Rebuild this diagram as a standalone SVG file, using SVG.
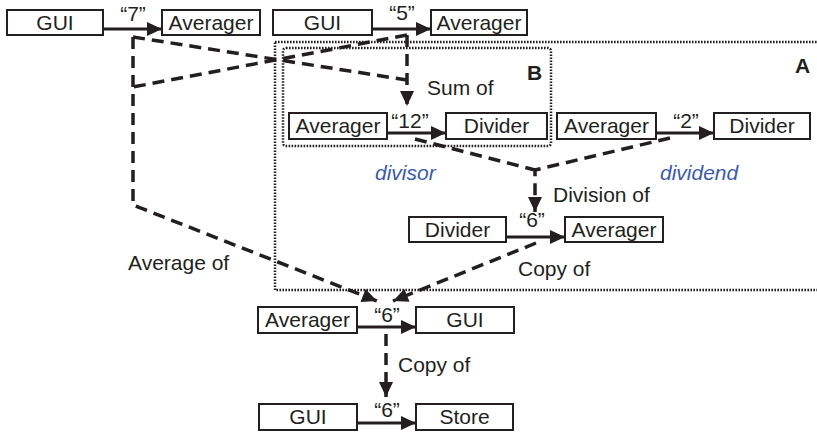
<svg xmlns="http://www.w3.org/2000/svg" width="817" height="434" viewBox="0 0 817 434">
<style>
text{font-family:"Liberation Sans",Arial,sans-serif;font-size:21px;fill:#231f20}
.box rect{fill:#fff;stroke:#231f20;stroke-width:2}
.box text{text-anchor:middle}
.q{text-anchor:middle}
.flow{stroke:#231f20;stroke-width:3;fill:none}
.dash{stroke:#231f20;stroke-width:3.5;fill:none;stroke-dasharray:12 7}
.dot{stroke:#231f20;stroke-width:2.5;fill:none;stroke-dasharray:1.6 1.4}
.lbl{font-weight:bold}
.blue{fill:#3b5ba9;font-style:italic}
</style>
<defs>
<marker id="ah" markerUnits="userSpaceOnUse" markerWidth="16" markerHeight="15" refX="15" refY="7" orient="auto" overflow="visible">
<path d="M0,0 L15,7 L0,14 z" fill="#231f20"/>
</marker>
</defs>

<g id="frames">
<rect class="dot" x="275" y="42" width="560" height="248"/>
<rect class="dot" x="283" y="48" width="268" height="98" rx="3"/>
<text class="lbl" x="795" y="73">A</text>
<text class="lbl" x="527" y="80">B</text>
</g>

<g id="connectors">
<line class="flow" x1="103" y1="29" x2="162" y2="29" marker-end="url(#ah)"/>
<line class="flow" x1="372" y1="29" x2="431" y2="29" marker-end="url(#ah)"/>
<line class="flow" x1="387" y1="133" x2="446" y2="133" marker-end="url(#ah)"/>
<line class="flow" x1="656" y1="133" x2="714" y2="133" marker-end="url(#ah)"/>
<line class="flow" x1="506" y1="237" x2="565" y2="237" marker-end="url(#ah)"/>
<line class="flow" x1="357" y1="327" x2="416" y2="327" marker-end="url(#ah)"/>
<line class="flow" x1="357" y1="423" x2="416" y2="423" marker-end="url(#ah)"/>

<path class="dash" d="M133,37 L407,80"/>
<path class="dash" d="M407,35 L407,106" marker-end="url(#ah)"/>
<path class="dash" d="M407,35 L133,87"/>
<path class="dash" d="M133,37 L133,205 L377,301" marker-end="url(#ah)"/>
<path class="dash" d="M415,139 L535,170"/>
<path class="dash" d="M670,138 L535,170 L535,212" marker-end="url(#ah)"/>
<path class="dash" d="M536,243 L393,301" marker-end="url(#ah)"/>
<path class="dash" d="M386,334 L386,397" marker-end="url(#ah)"/>

<text class="q" x="133" y="21">“7”</text>
<text class="q" x="402" y="20">“5”</text>
<text class="q" x="410" y="128">“12”</text>
<text class="q" x="686" y="128">“2”</text>
<text class="q" x="532" y="227">“6”</text>
<text class="q" x="387" y="322">“6”</text>
<text class="q" x="387" y="417">“6”</text>

<text x="427" y="95">Sum of</text>
<text class="blue" x="375" y="180">divisor</text>
<text class="blue" x="660" y="180">dividend</text>
<text x="553" y="202">Division of</text>
<text x="518" y="276">Copy of</text>
<text x="128" y="270">Average of</text>
<text x="398" y="372">Copy of</text>
</g>

<g id="gui1" class="box"><rect x="7" y="10" width="96" height="25"/><text x="55" y="30">GUI</text></g>
<g id="averager1" class="box"><rect x="162" y="10" width="98" height="25"/><text x="211" y="30">Averager</text></g>
<g id="gui2" class="box"><rect x="273" y="10" width="99" height="25"/><text x="322.5" y="30">GUI</text></g>
<g id="averager2" class="box"><rect x="431" y="10" width="96" height="25"/><text x="479" y="30">Averager</text></g>

<g id="averager3" class="box"><rect x="289" y="113" width="98" height="26"/><text x="338" y="133">Averager</text></g>
<g id="divider1" class="box"><rect x="446" y="113" width="101" height="26"/><text x="496.5" y="133">Divider</text></g>
<g id="averager4" class="box"><rect x="557" y="113" width="99" height="26"/><text x="606.5" y="133">Averager</text></g>
<g id="divider2" class="box"><rect x="714" y="113" width="96" height="26"/><text x="762" y="133">Divider</text></g>

<g id="divider3" class="box"><rect x="409" y="217" width="97" height="25"/><text x="457.5" y="237">Divider</text></g>
<g id="averager5" class="box"><rect x="565" y="217" width="98" height="25"/><text x="614" y="237">Averager</text></g>

<g id="averager6" class="box"><rect x="258" y="307" width="99" height="26"/><text x="307.5" y="327">Averager</text></g>
<g id="gui3" class="box"><rect x="416" y="307" width="98" height="26"/><text x="465" y="327">GUI</text></g>

<g id="gui4" class="box"><rect x="259" y="404" width="98" height="26"/><text x="308" y="424">GUI</text></g>
<g id="store" class="box"><rect x="416" y="404" width="97" height="26"/><text x="464.5" y="424">Store</text></g>
</svg>
